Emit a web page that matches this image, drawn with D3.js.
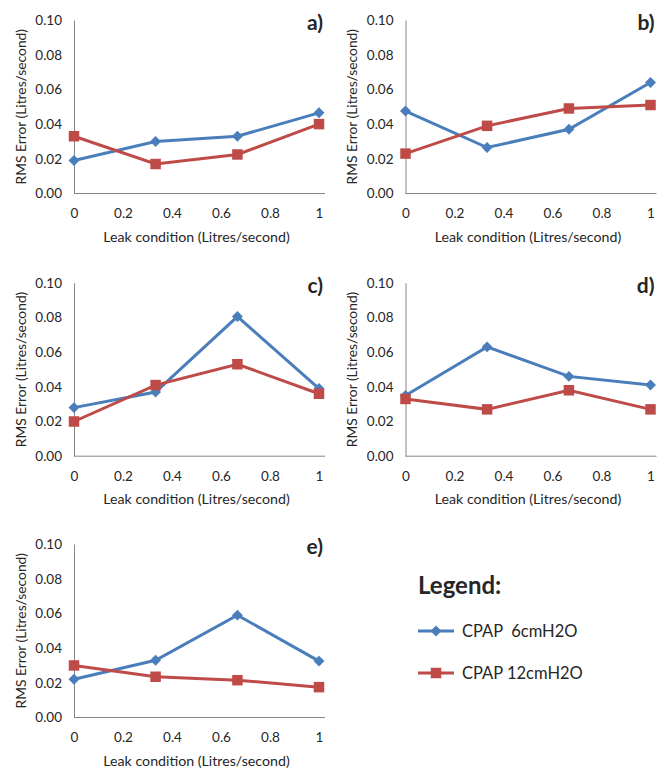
<!DOCTYPE html>
<html>
<head>
<meta charset="utf-8">
<script src="https://cdn.jsdelivr.net/npm/d3@7"></script>
<style>
  body { margin: 0; background: #fff; }
  text { font-family: Lato, "Open Sans", sans-serif; fill: #262626; }
</style>
</head>
<body>
<div id="d3container"></div>
<script>
// data
const leakLevels = [0, 0.333, 0.667, 1];
const panelLabels = ["a)", "b)", "c)", "d)", "e)"];
const cpap6 = [
    [0.019, 0.030, 0.033, 0.0465],
    [0.0475, 0.0265, 0.037, 0.064],
    [0.028, 0.037, 0.0805, 0.039],
    [0.035, 0.063, 0.046, 0.041],
    [0.022, 0.033, 0.059, 0.0325]
];
const cpap12 = [
    [0.033, 0.017, 0.0225, 0.040],
    [0.023, 0.039, 0.049, 0.051],
    [0.020, 0.041, 0.053, 0.036],
    [0.033, 0.027, 0.038, 0.027],
    [0.030, 0.0235, 0.0215, 0.0175]
];
const xTicks = [0, 0.2, 0.4, 0.6, 0.8, 1];
const yTicks = [0, 0.02, 0.04, 0.06, 0.08, 0.10];
const seriesNames = ["CPAP  6cmH2O", "CPAP 12cmH2O"];

const blue = "#4a7ebb", red = "#be4b48";

const W = 670, H = 773;
const pw = 245, ph = 173.5;          // plot area of one panel
const colX = [74, 405.5], rowY = [20, 282.7, 544];

const svg = d3.select("#d3container")
    .append("svg")
    .attr("width", W)
    .attr("height", H);

const x = d3.scaleLinear().domain([0, 1]).range([0, pw]);
const y = d3.scaleLinear().domain([0, 0.10]).range([ph, 0]);

const line = d3.line()
    .x(d => x(d.x))
    .y(d => y(d.v));

panelLabels.forEach((lab, i) => {
    const g = svg.append("g")
        .attr("transform", `translate(${colX[i % 2]},${rowY[Math.floor(i / 2)]})`);

    // x axis
    const gx = g.append("g")
        .attr("transform", `translate(0,${ph})`)
        .call(d3.axisBottom(x).tickValues(xTicks).tickSize(0).tickPadding(15).tickFormat(d => d));
    gx.select(".domain").attr("d", `M0,0H${pw + 6}`).attr("stroke", "#868686");
    gx.selectAll("text").style("font-size", "13.5px").attr("fill", "#262626");

    // y axis
    const gy = g.append("g")
        .call(d3.axisLeft(y).tickValues(yTicks).tickSize(0).tickPadding(12).tickFormat(d3.format(".2f")));
    gy.select(".domain").attr("stroke", "#868686");
    gy.selectAll("text").style("font-size", "13.5px").attr("fill", "#262626");

    // axis titles
    g.append("text")
        .attr("x", pw / 2)
        .attr("y", ph + 48)
        .attr("text-anchor", "middle")
        .style("font-size", "14.2px")
        .text("Leak condition (Litres/second)");

    g.append("text")
        .attr("transform", "rotate(-90)")
        .attr("x", -ph / 2)
        .attr("y", -53)
        .attr("dy", "0.35em")
        .attr("text-anchor", "middle")
        .style("font-size", "13.8px")
        .text("RMS Error (Litres/second)");

    // panel label
    g.append("text")
        .attr("x", pw + 4)
        .attr("y", 10)
        .attr("text-anchor", "end")
        .style("font-size", "21px")
        .style("font-weight", "bold")
        .attr("fill", "#000")
        .text(lab);

    const s6 = leakLevels.map((lx, j) => ({ x: lx, v: cpap6[i][j] }));
    const s12 = leakLevels.map((lx, j) => ({ x: lx, v: cpap12[i][j] }));

    g.append("path").datum(s6)
        .attr("fill", "none").attr("stroke", blue).attr("stroke-width", 3)
        .attr("d", line);
    g.append("path").datum(s12)
        .attr("fill", "none").attr("stroke", red).attr("stroke-width", 3)
        .attr("d", line);

    g.selectAll(".dia").data(s6).enter().append("path")
        .attr("class", "dia")
        .attr("transform", d => `translate(${x(d.x)},${y(d.v)}) rotate(45)`)
        .attr("d", d3.symbol(d3.symbolSquare, 60))
        .attr("fill", blue);

    g.selectAll(".sq").data(s12).enter().append("path")
        .attr("class", "sq")
        .attr("transform", d => `translate(${x(d.x)},${y(d.v)})`)
        .attr("d", d3.symbol(d3.symbolSquare, 110))
        .attr("fill", red);
});

// legend
const lg = svg.append("g").attr("transform", "translate(418,594)");
lg.append("text")
    .attr("x", 0).attr("y", 0)
    .style("font-size", "24px")
    .style("font-weight", "bold")
    .attr("fill", "#000")
    .text("Legend:");

seriesNames.forEach((name, k) => {
    const ly = 37 + k * 42;
    const col = k === 0 ? blue : red;
    lg.append("line")
        .attr("x1", 0).attr("x2", 36)
        .attr("y1", ly).attr("y2", ly)
        .attr("stroke", col).attr("stroke-width", 3);
    lg.append("path")
        .attr("transform", k === 0 ? `translate(18,${ly}) rotate(45)` : `translate(18,${ly})`)
        .attr("d", d3.symbol(d3.symbolSquare, k === 0 ? 60 : 110))
        .attr("fill", col);
    lg.append("text")
        .attr("x", 44).attr("y", ly)
        .attr("dy", "0.35em")
        .attr("xml:space", "preserve")
        .style("white-space", "pre")
        .style("font-size", "16.5px")
        .text(name);
});
</script>
</body>
</html>
